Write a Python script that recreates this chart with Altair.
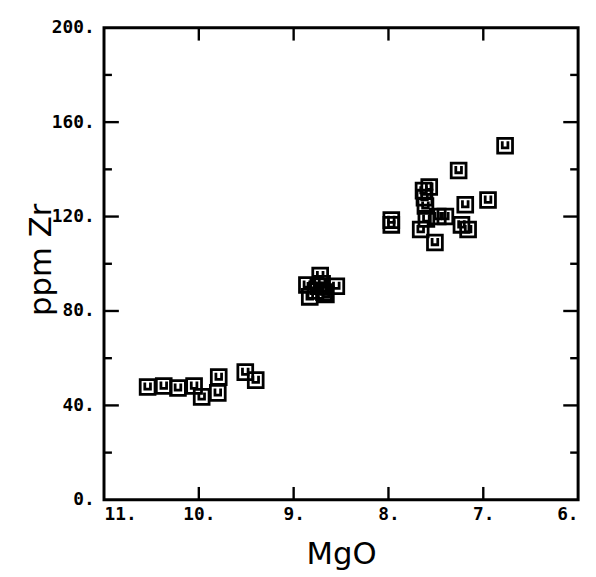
import altair as alt
import pandas as pd

# MgO (wt%) and Zr (ppm)
mgo = [10.54, 10.37, 10.22, 10.05, 9.97, 9.79, 9.80, 9.51, 9.40,
       8.86, 8.83, 8.77, 8.72, 8.70, 8.68, 8.74, 8.55, 8.66,
       7.97, 7.97, 7.63, 7.57, 7.62, 7.61, 7.48, 7.40, 7.60, 7.66, 7.51,
       7.26, 7.19, 6.95, 7.23, 7.16, 6.77]
zr = [47.8, 48.2, 47.4, 48.2, 43.6, 52.0, 45.3, 54.1, 50.7,
      91.0, 86.0, 88.5, 95.0, 91.5, 88.0, 90.5, 90.5, 87.0,
      118.5, 116.5, 131.0, 132.5, 128.0, 124.5, 120.0, 120.0, 119.0, 114.5, 109.0,
      139.5, 125.0, 127.0, 116.5, 114.5, 150.0]

x_ticks = [11, 10, 9, 8, 7, 6]
x_inner = [10, 9, 8, 7]
y_ticks = [0, 40, 80, 120, 160, 200]
y_inner = [40, 80, 120, 160]
y_minor = [20, 60, 100, 140, 180]

W, H = 479, 477

df = pd.DataFrame({"mgo": mgo, "zr": zr})

xscale = alt.Scale(domain=[6, 11], reverse=True, nice=False, zero=False)
yscale = alt.Scale(domain=[0, 200], nice=False)

lab_font = "DejaVu Sans Mono"
xaxis = alt.Axis(values=x_ticks, ticks=False, domain=False, grid=False,
                 labelExpr="datum.value + '.'", labelFont=lab_font, labelFontWeight="bold",
                 labelFontSize=18, labelColor="black", labelPadding=6,
                 title="MgO", titleFont="DejaVu Sans", titleFontWeight="normal",
                 titleFontSize=31, titleColor="black", titlePadding=16)
yaxis = alt.Axis(values=y_ticks, ticks=False, domain=False, grid=False,
                 labelExpr="datum.value + '.'", labelFont=lab_font, labelFontWeight="bold",
                 labelFontSize=18, labelColor="black", labelPadding=10,
                 title="ppm  Zr", titleFont="DejaVu Sans", titleFontWeight="normal",
                 titleFontSize=31, titleColor="black", titleAngle=270,
                 titleX=-63, titleY=234, titleAlign="center", titleBaseline="middle")

X = lambda f: alt.X(f"{f}:Q", scale=xscale, axis=xaxis)
Y = lambda f: alt.Y(f"{f}:Q", scale=yscale, axis=yaxis)

shape = "M-1,-1H1V1H-1Z M-0.38,-0.6V0.3H0.38V-0.6"
points = alt.Chart(df).mark_point(shape=shape, filled=False, color="black",
                                  strokeWidth=2.8, size=225, opacity=1).encode(
    x=X("mgo"), y=Y("zr"))

dxi = pd.DataFrame({"mgo": x_inner})
dyi = pd.DataFrame({"zr": y_inner})
dym = pd.DataFrame({"zr": y_minor})

rk = dict(color="black", strokeWidth=2.4)
bottom = alt.Chart(dxi).mark_rule(**rk).encode(x=X("mgo"), y=alt.value(H), y2=alt.value(H - 13))
top = alt.Chart(dxi).mark_rule(**rk).encode(x=X("mgo"), y=alt.value(0), y2=alt.value(13))
left = alt.Chart(dyi).mark_rule(**rk).encode(y=Y("zr"), x=alt.value(0), x2=alt.value(15))
right = alt.Chart(dyi).mark_rule(**rk).encode(y=Y("zr"), x=alt.value(W), x2=alt.value(W - 15))
leftm = alt.Chart(dym).mark_rule(**rk).encode(y=Y("zr"), x=alt.value(0), x2=alt.value(8))
rightm = alt.Chart(dym).mark_rule(**rk).encode(y=Y("zr"), x=alt.value(W), x2=alt.value(W - 8))

chart = alt.layer(points, bottom, top, left, right, leftm, rightm).properties(
    width=W, height=H,
    autosize=alt.AutoSizeParams(type="none"),
    padding={"left": 97, "top": 17, "right": 10, "bottom": 70},
    background="white",
).configure_view(stroke="black", strokeWidth=3)

chart.save("out.html", embed_options={"renderer": "svg", "actions": False})
